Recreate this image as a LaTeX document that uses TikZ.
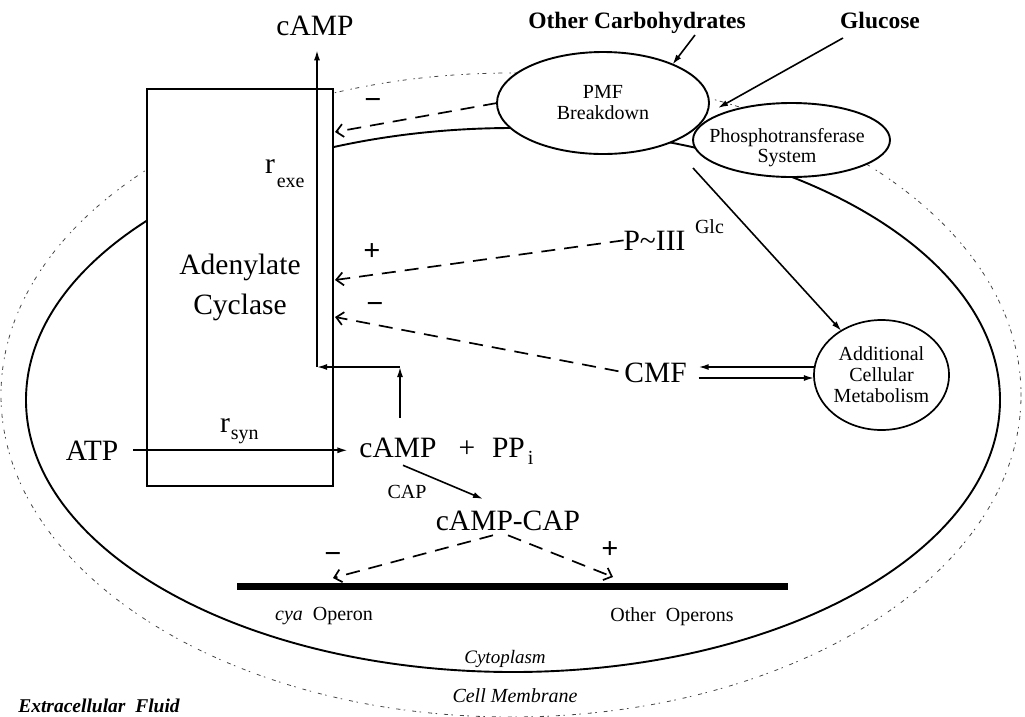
\documentclass[tikz,border=0pt]{standalone}
\usepackage{fontspec}
\setmainfont{Liberation Serif}
\usetikzlibrary{arrows.meta,shapes.geometric}
\begin{document}
\begin{tikzpicture}[x=1pt,y=-1pt,
  every node/.style={inner sep=0pt, outer sep=0pt},
  big/.style={font=\fontsize{29.5}{34}\selectfont},
  sm/.style={font=\fontsize{20}{22}\selectfont},
  boldlab/.style={font=\fontsize{23.5}{26}\selectfont\bfseries},
  sign/.style={font=\fontsize{30}{30}\selectfont\bfseries},
  oval/.style={ellipse, draw, fill=white, line width=1.9pt, align=center},
  sarr/.style={line width=1.6pt, -{Latex[length=10pt,width=6pt]}},
  darr/.style={line width=1.7pt, dash pattern=on 14pt off 9pt, -{Straight Barb[length=7pt,width=13pt,line width=1.7pt]}},
]
\useasboundingbox (0,0) rectangle (1025,716);

% outer dotted boundary (extracellular side of membrane)
\draw[gray!55!black, line width=0.8pt, dash pattern=on 1.5pt off 3.5pt on 4pt off 7pt] (511,395) ellipse [x radius=510, y radius=322];
% cell (cytoplasm) boundary
\draw[line width=1.9pt] (513,400) ellipse [x radius=487, y radius=272];

% adenylate cyclase box
\node[draw, fill=white, line width=1.6pt, minimum width=186pt, minimum height=397pt, align=center, font=\fontsize{29.5}{40}\selectfont] (cyc) at (240,287.5) {Adenylate\\Cyclase};

% ellipses
\node[oval, minimum width=212pt, minimum height=102pt, font=\fontsize{20}{21}\selectfont] (pmf) at (603,103) {PMF\\Breakdown};
\node[oval, minimum width=197pt, minimum height=74pt] (pts) at (791.5,140) {};
\node[align=center, font=\fontsize{20}{20}\selectfont] (ptstxt) at (787,148) {Phosphotransferase\\System};
\node[oval, line width=1.7pt, minimum width=133pt, minimum height=110pt, font=\fontsize{20}{21}\selectfont] (add) at (881.5,375) {Additional\\Cellular\\Metabolism};

% top labels
\node[big, anchor=base] (camp1) at (315,35) {cAMP};
\node[boldlab, anchor=base] (oc) at (637,28) {Other Carbohydrates};
\node[boldlab, anchor=base] (glu) at (880,28) {Glucose};

% reaction labels
\node[anchor=base west] (rexe) at (265,173) {\fontsize{29.5}{34}\selectfont r\kern2pt\raisebox{-14pt}{\fontsize{20}{22}\selectfont exe}};
\node[big, anchor=base] (atp) at (92,460) {ATP};
\node[anchor=base west] (rsyn) at (220,432) {\fontsize{29.5}{34}\selectfont r\kern1pt\raisebox{-7pt}{\fontsize{20}{22}\selectfont syn}};
\node[big, anchor=base] (camp2) at (398,457) {cAMP};
\node[big, anchor=base] (plus1) at (467,457) {+};
\node[big, anchor=base west] (ppi) at (492,457) {PP\kern3pt\raisebox{-7pt}{\fontsize{20}{22}\selectfont i}};
\node[sm, anchor=base] (cap) at (407,498) {CAP};
\node[big, anchor=base] (campcap) at (508,530) {cAMP-CAP};
\node[big, anchor=base] (p3) at (654.5,250) {P\textasciitilde III};
\node[sm, anchor=base west] (glc) at (695,233) {Glc};
\node[big, anchor=base] (cmf) at (655.5,382) {CMF};

% signs
\node[sign] (m1) at (373,104) {−};
\node[sign] (p1) at (372,252) {+};
\node[sign] (m2) at (375,308) {−};
\node[sign] (m3) at (333,558) {−};
\node[sign] (p2) at (610,550) {+};

% operons
\coordinate (bl) at (237,586);
\coordinate (br) at (788,586);
\draw[line width=7pt] (bl) -- (br);
\node[sm, anchor=base] (cya) at (324,620) {\textit{cya}\ \ Operon};
\node[sm, anchor=base] (oop) at (672,621) {Other\ \ Operons};

% region labels
\node[anchor=base, font=\fontsize{19}{20}\selectfont\itshape] (cyto) at (505,663) {Cytoplasm};
\node[anchor=base, font=\fontsize{20}{22}\selectfont\itshape] (memb) at (515,702) {Cell Membrane};
\node[anchor=base, font=\fontsize{19.5}{22}\selectfont\bfseries\itshape] (ecf) at (99,712) {Extracellular\ \ Fluid};

% coordinates for connector ends
\coordinate (c1) at (400,367);
\coordinate (c2) at (317,367);
\coordinate (tA) at (335,132);
\coordinate (tB) at (335,280);
\coordinate (tC) at (335,317);
\coordinate (tD) at (333,578);
\coordinate (tE) at (613,577);
\coordinate (jn) at (693,168);
\coordinate (ocs) at (695,35);
\coordinate (gs) at (843,38);
\coordinate (gt) at (718,108);

% cAMP excretion path
\draw[sarr, shorten <=20pt] (camp2.north -| c1) -- (c1);
\draw[sarr] (c1) -- (c2);
\draw[sarr, shorten >=15pt] (c2) -- (c2 |- camp1.south);

% synthesis
\draw[sarr, shorten <=15pt, shorten >=12pt] (atp.east) -- (atp.east -| camp2.west);
\draw[sarr] ([xshift=5pt,yshift=-8pt]camp2.south) -- ([xshift=-25pt,yshift=11.5pt]campcap.north);

% regulation (dashed)
\draw[darr] (pmf.west) -- (tA);
\draw[darr] (p3.west) -- (tB);
\draw[darr, shorten <=6pt] (cmf.west) -- (tC);
\draw[darr] ([xshift=-15pt,yshift=-5pt]campcap.south) -- (tD);
\draw[darr] ([yshift=-5pt]campcap.south) -- (tE);

% metabolism
\draw[sarr, shorten >=12pt] ([yshift=8pt]add.west) -- ([yshift=8pt]add.west -| cmf.east);
\draw[sarr, shorten <=12pt] ([yshift=-3pt]add.west -| cmf.east) -- ([yshift=-3pt]add.west);
\draw[sarr] (jn) -- (add);

% substrates
\draw[sarr] (ocs) -- (pmf.29);
\draw[sarr] (gs) -- (gt);
\end{tikzpicture}
\end{document}
